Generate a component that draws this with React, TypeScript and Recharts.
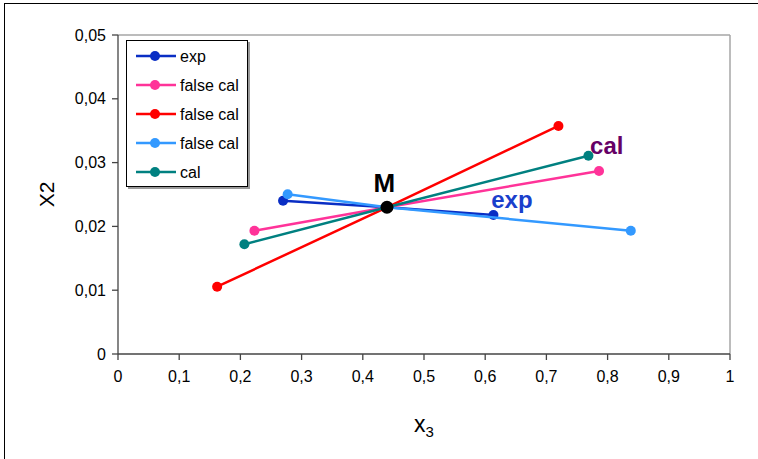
// Scatter chart: one experimental and four calibration lines that all cross point M.
import {
  ScatterChart,
  Scatter,
  XAxis,
  YAxis,
  ReferenceLine,
  ReferenceDot,
  Legend,
} from 'recharts';

const FONT = '"Liberation Sans", Arial, sans-serif';

// Shared crossing point M (x3, x2).
const M_POINT = [{ x: 0.4395, y: 0.023 }];

// Each series: left end, M, right end.
const EXP = [
  { x: 0.2697, y: 0.02403 },
  { x: 0.4395, y: 0.023 },
  { x: 0.6135, y: 0.02179 },
];
const FALSE_CAL_PINK = [
  { x: 0.2229, y: 0.01933 },
  { x: 0.4395, y: 0.023 },
  { x: 0.786, y: 0.02868 },
];
const FALSE_CAL_RED = [
  { x: 0.162, y: 0.01055 },
  { x: 0.4395, y: 0.023 },
  { x: 0.7197, y: 0.03574 },
];
const FALSE_CAL_BLUE = [
  { x: 0.2772, y: 0.02503 },
  { x: 0.4395, y: 0.023 },
  { x: 0.8379, y: 0.01933 },
];
const CAL = [
  { x: 0.2065, y: 0.0172 },
  { x: 0.4395, y: 0.023 },
  { x: 0.7687, y: 0.03108 },
];

const SERIES = [
  { name: 'exp', data: EXP, color: '#0a2ec4' },
  { name: 'false cal', data: FALSE_CAL_PINK, color: '#ff3399' },
  { name: 'false cal', data: FALSE_CAL_RED, color: '#ff0000' },
  { name: 'false cal', data: FALSE_CAL_BLUE, color: '#3399ff' },
  { name: 'cal', data: CAL, color: '#008080' },
];

const X_TICKS = [0, 0.1, 0.2, 0.3, 0.4, 0.5, 0.6, 0.7, 0.8, 0.9, 1];
const Y_TICKS = [0, 0.01, 0.02, 0.03, 0.04, 0.05];

// Text annotations (left/baseline anchors, M is centred).
const LABEL_M = { x: 0.4351, y: 0.02539, text: 'M', color: '#000000' };
const LABEL_EXP = { x: 0.6098, y: 0.02288, text: 'exp', color: '#1a3fcc' };
const LABEL_CAL = { x: 0.7714, y: 0.03135, text: 'cal', color: '#660066' };

const comma = (v: number) => String(v).replace('.', ',');

const dot = (r: number, color: string) => (props: any) => (
  <circle cx={props.cx} cy={props.cy} r={r} fill={color} />
);

const annotation =
  (text: string, color: string, anchor: 'start' | 'middle', size: number) =>
  ({ viewBox }: any) => (
    <text
      x={viewBox.x + viewBox.width / 2}
      y={viewBox.y + viewBox.height / 2}
      textAnchor={anchor}
      fontFamily={FONT}
      fontWeight="bold"
      fontSize={size}
      fill={color}
    >
      {text}
    </text>
  );

// Legend rows follow the series order (not sorted by name).
function LegendBox() {
  return (
    <div
      style={{
        width: 120,
        height: 145,
        border: '1px solid #000',
        boxShadow: '2px 2px 0 #9a9a9a',
        background: '#fff',
      }}
    >
      <svg width={120} height={145}>
        {SERIES.map((s, i) => {
          const cy = 15 + i * 29;
          return (
            <g key={i}>
              <line x1={9} x2={49} y1={cy} y2={cy} stroke={s.color} strokeWidth={2.5} />
              <circle cx={28} cy={cy} r={5} fill={s.color} />
              <text x={53} y={cy + 6} fontFamily={FONT} fontSize={16} fill="#000">
                {s.name}
              </text>
            </g>
          );
        })}
      </svg>
    </div>
  );
}

export default function App() {
  return (
    <div
      style={{
        position: 'absolute',
        left: 0,
        top: 0,
        width: 758,
        height: 459,
        overflow: 'hidden',
        background: '#fff',
      }}
    >
      <div
        style={{
          position: 'absolute',
          left: 4,
          top: 3,
          width: 770,
          height: 470,
          border: '1.5px solid #000',
        }}
      />
      <ScatterChart
        width={758}
        height={459}
        margin={{ top: 35, right: 28, bottom: 65, left: 58 }}
        style={{ position: 'absolute', left: 0, top: 0, fontFamily: FONT }}
      >
        <XAxis
          type="number"
          dataKey="x"
          domain={[0, 1]}
          ticks={X_TICKS}
          tickFormatter={comma}
          allowDataOverflow
          stroke="#444"
          strokeWidth={1.3}
          tickSize={6}
          tickMargin={11}
          height={40}
          tick={{ fill: '#000', fontSize: 16, fontFamily: FONT }}
          label={{
            content: ({ viewBox }: any) => (
              <text
                x={viewBox.x + viewBox.width / 2}
                y={viewBox.y + 78}
                textAnchor="middle"
                fontFamily={FONT}
                fontSize={23}
                fill="#000"
              >
                x
                <tspan fontSize={15} dy={5}>
                  3
                </tspan>
              </text>
            ),
          }}
        />
        <YAxis
          type="number"
          dataKey="y"
          domain={[0, 0.05]}
          ticks={Y_TICKS}
          tickFormatter={comma}
          allowDataOverflow
          stroke="#444"
          strokeWidth={1.3}
          tickSize={6}
          tickMargin={6}
          width={60}
          tick={{ fill: '#000', fontSize: 16, fontFamily: FONT }}
          label={{
            content: ({ viewBox }: any) => {
              const cx = 46;
              const cy = viewBox.y + viewBox.height / 2;
              return (
                <text
                  x={cx}
                  y={cy}
                  transform={`rotate(-90 ${cx} ${cy})`}
                  textAnchor="middle"
                  dominantBaseline="central"
                  fontFamily={FONT}
                  fontSize={21}
                  fill="#000"
                >
                  X2
                </text>
              );
            },
          }}
        />
        {/* Plot area frame: grey top and right edges. */}
        <ReferenceLine y={0.05} stroke="#a6a6a6" strokeWidth={1.5} ifOverflow="visible" />
        <ReferenceLine x={1} stroke="#a6a6a6" strokeWidth={1.5} ifOverflow="visible" />
        <Legend
          layout="vertical"
          align="center"
          verticalAlign="middle"
          wrapperStyle={{ left: 126, top: 40, width: 122 }}
          content={<LegendBox />}
        />
        {SERIES.map((s, i) => (
          <Scatter
            key={i}
            name={s.name}
            data={s.data}
            fill={s.color}
            line={{ stroke: s.color, strokeWidth: 2.5 }}
            shape={dot(5, s.color)}
            isAnimationActive={false}
          />
        ))}
        <Scatter
          name="M"
          data={M_POINT}
          fill="#000"
          legendType="none"
          shape={dot(6.5, '#000')}
          isAnimationActive={false}
        />
        {[LABEL_M, LABEL_EXP, LABEL_CAL].map((l, i) => (
          <ReferenceDot
            key={i}
            x={l.x}
            y={l.y}
            r={0}
            fill="none"
            stroke="none"
            ifOverflow="visible"
            label={{
              content: annotation(
                l.text,
                l.color,
                l.text === 'M' ? 'middle' : 'start',
                l.text === 'M' ? 26 : 24,
              ),
            }}
          />
        ))}
      </ScatterChart>
    </div>
  );
}
